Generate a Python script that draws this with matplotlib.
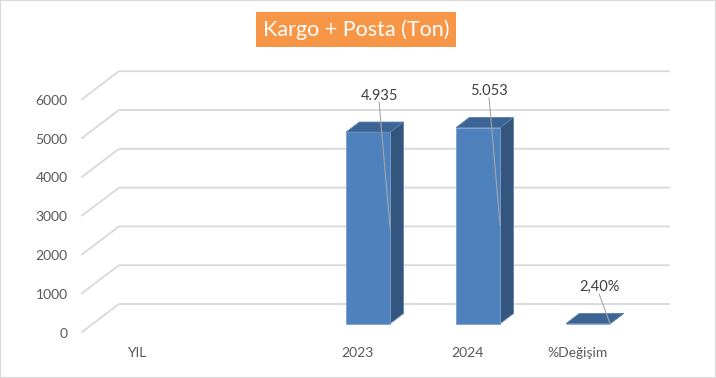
import matplotlib
matplotlib.use("Agg")
import matplotlib.pyplot as plt
from matplotlib.patches import Polygon, Rectangle

categories = ["YIL", "", "2023", "2024", "%Değişim"]
values = [None, None, 4935, 5053, 2.40]
value_labels = ["", "", "4.935", "5.053", "2,40%"]
yticks = [0, 1000, 2000, 3000, 4000, 5000, 6000]
title = "Kargo + Posta (Ton)"

plt.rcParams['font.family'] = ['Lato', 'DejaVu Sans']

W, H = 716, 378
fig = plt.figure(figsize=(W / 100, H / 100), dpi=100)
ax = fig.add_axes([0, 0, 1, 1])

# pixel layout of the fake 3d frame
slot_px = 110.0
x0_px, y0_px = 82.0, 332.0
px_per_unit = 0.0388
ax.set_xlim(-x0_px / slot_px, (W - x0_px) / slot_px)
ax.set_ylim(-(H - y0_px) / px_per_unit, y0_px / px_per_unit)
ax.axis("off")

DX = 37 / slot_px
DY = 28 / px_per_unit
n = len(categories)


def sh(x, y, d):
    return (x + d * DX, y + d * DY)


# back wall gridlines + side wall diagonals
for v in yticks:
    ax.plot([0, DX, n + DX], [v, v + DY, v + DY], color="#d9d9d9", lw=1.3, zorder=1)
    ax.text(-0.13, v - 40, str(v), ha="right", va="center", fontsize=10, color="#595959")

# bars
d0, d1 = 0.3, 0.66
half = 0.2
for i, v in enumerate(values):
    if v is None:
        continue
    cx = i + 0.5
    xl, xr = cx - half, cx + half
    front = [sh(xl, 0, d0), sh(xr, 0, d0), sh(xr, v, d0), sh(xl, v, d0)]
    side = [sh(xr, 0, d0), sh(xr, 0, d1), sh(xr, v, d1), sh(xr, v, d0)]
    top = [sh(xl, v, d0), sh(xr, v, d0), sh(xr, v, d1), sh(xl, v, d1)]
    ax.add_patch(Polygon(side, closed=True, facecolor="#34557e", edgecolor="#5a7fae", lw=0.6, zorder=3))
    ax.add_patch(Polygon(front, closed=True, facecolor="#4f81bd", edgecolor="#7a9fd0", lw=0.6, zorder=3))
    ax.add_patch(Polygon(top, closed=True, facecolor="#3c6596", edgecolor="#5a7fae", lw=0.6, zorder=3))

    # data label with leader line
    lx, ly = sh(cx + 0.1, v + 760, d0)
    ax.text(lx, ly, value_labels[i], ha="center", va="bottom", fontsize=10.5, color="#404040", zorder=5)
    ex, ey = sh(xr, v / 2, d0)
    ax.plot([lx, ex], [ly, ey], color="#a6a6a6", lw=0.8, zorder=4)

# category labels
for i, c in enumerate(categories):
    ax.text(i + 0.5, -540, c, ha="center", va="center", fontsize=10, color="#595959")

fig.text(356 / W, 1 - 29.5 / H, title, ha="center", va="center", fontsize=15.5, color="white",
         bbox=dict(boxstyle="square,pad=0.32", facecolor="#f79646", edgecolor="none"))

fig.add_artist(Rectangle((0, 0), 1, 1, transform=fig.transFigure, fill=False,
                         edgecolor="#d9d9d9", lw=1.5))

fig.savefig("out.png", dpi=100, facecolor="white")
